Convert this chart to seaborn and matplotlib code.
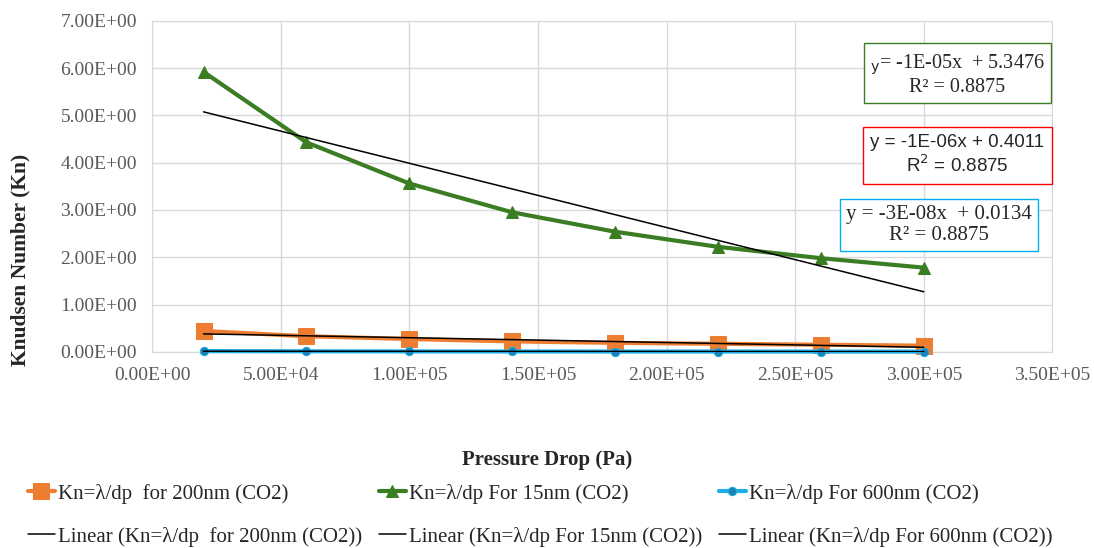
import numpy as np
import pandas as pd
import matplotlib.pyplot as plt
import seaborn as sns
from matplotlib.ticker import FuncFormatter

pressure = [2e4, 6e4, 1e5, 1.4e5, 1.8e5, 2.2e5, 2.6e5, 3e5]
kn_200 = [0.44, 0.33, 0.27, 0.22, 0.19, 0.17, 0.15, 0.13]
kn_15 = [5.92, 4.43, 3.56, 2.95, 2.54, 2.22, 1.98, 1.78]
kn_600 = [0.015, 0.011, 0.009, 0.007, 0.006, 0.006, 0.005, 0.004]

labels = ["Kn=λ/dp  for 200nm (CO2)", "Kn=λ/dp For 15nm (CO2)", "Kn=λ/dp For 600nm (CO2)"]
colors = ["#ED7D31", "#3A7D22", "#1CADE4"]
markers = ["s", "^", "o"]

sns.set_style("whitegrid")
plt.rcParams["font.family"] = ["Liberation Serif", "DejaVu Serif"]

fig = plt.figure(figsize=(10.94, 5.48), dpi=100)
ax = fig.add_axes([0.139, 0.358, 0.823, 0.604])

handles = []
for ys, lab, col, mk, ms in zip([kn_200, kn_15, kn_600], labels, colors, markers, [12, 9, 6]):
    df = pd.DataFrame({"x": pressure, "y": ys})
    sns.lineplot(data=df, x="x", y="y", ax=ax, color=col, marker=mk, markersize=ms,
                 markeredgecolor=col, linewidth=3, label=lab, legend=False)
    h = ax.lines[-1]
    h.set_clip_on(False)
    h.set_zorder(3)
    # linear trendline
    p = np.polyfit(pressure, ys, 1)
    xs = np.array([pressure[0], pressure[-1]])
    t, = ax.plot(xs, np.polyval(p, xs), color="black", linewidth=1.1, zorder=5,
                 label="Linear (" + lab + ")")
    handles += [h, t]

# blue markers a bit darker in the centre, like the reference
ax.lines[4].set_markerfacecolor("#1A82B8")

ax.set_xlim(0, 3.5e5)
ax.set_ylim(0, 7)
ax.set_xticks(np.arange(0, 3.51e5, 5e4))
ax.set_yticks(np.arange(0, 7.01, 1))
fmt = FuncFormatter(lambda v, pos: "%.2E" % v)
ax.xaxis.set_major_formatter(fmt)
ax.yaxis.set_major_formatter(fmt)
ax.tick_params(axis="both", labelsize=14, labelcolor="#595959", length=0)
ax.tick_params(axis="y", pad=11)
ax.tick_params(axis="x", pad=11)
ax.grid(color="#D9D9D9", linewidth=1)
for s in ax.spines.values():
    s.set_color("#D9D9D9")

ax.set_xlabel("")
ax.set_ylabel("")
fig.text(0.5, 1 - 460 / 548, "Pressure Drop (Pa)", ha="center", va="center",
         fontsize=15, fontweight="bold")
fig.text(20 / 1094, 1 - 260 / 548, "Knudsen Number (Kn)", ha="center", va="center",
         rotation=90, fontsize=15.5, fontweight="bold")

ax.text(3.13e5, 5.86, "$_{\\mathrm{y}}$= -1E-05x  + 5.3476\nR² = 0.8875", ha="center", va="center",
        fontsize=14.5, linespacing=1.1,
        bbox=dict(boxstyle="square,pad=0.3", fc="white", ec="#3A7D22", lw=1))
ax.text(3.13e5, 4.16, "y = -1E-06x + 0.4011\nR$^2$ = 0.8875", ha="center", va="center",
        fontsize=13.5, linespacing=1.2, family=["Liberation Sans", "DejaVu Sans"],
        bbox=dict(boxstyle="square,pad=0.4", fc="white", ec="#FF0000", lw=1))
ax.text(3.06e5, 2.68, "y = -3E-08x  + 0.0134\nR² = 0.8875", ha="center", va="center",
        fontsize=15, linespacing=1.1,
        bbox=dict(boxstyle="square,pad=0.3", fc="white", ec="#00B0F0", lw=1))

fig.legend(handles=handles, labels=[h.get_label() for h in handles], ncol=3,
           loc="lower left", bbox_to_anchor=(0.012, -0.024), frameon=False, fontsize=15,
           handlelength=1.3, handletextpad=0.15, columnspacing=0.8, labelspacing=1.1,
           borderpad=0.2)

fig.savefig("out.png", dpi=100)
